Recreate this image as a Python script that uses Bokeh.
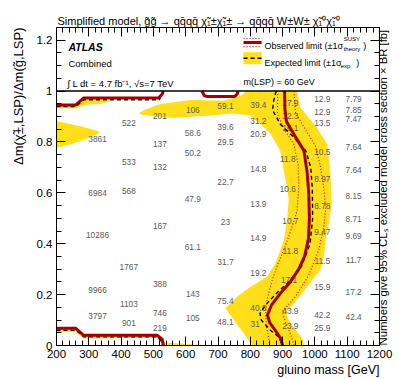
import math
from bokeh.plotting import figure
from bokeh.models import LinearAxis, FixedTicker, Label, Span, Range1d, ColumnDataSource, Title
from bokeh.core.properties import value
from bokeh.embed import file_html
from bokeh.resources import INLINE

FONT = "Liberation Sans"
YELLOW = "#FEDF1A"
OBS_COLOR = "#A50000"
THEORY_COLOR = "#D40000"

# ---------------- axes ----------------
x_ticks = [200, 300, 400, 500, 600, 700, 800, 900, 1000, 1100, 1200]
x_minor = [v for v in range(200, 1201, 20) if v % 100]
y_ticks = [0, 0.2, 0.4, 0.6, 0.8, 1.0, 1.2]
y_tick_labels = ["0", "0.2", "0.4", "0.6", "0.8", "1", "1.2"]
y_minor = [round(0.05 * i, 2) for i in range(26) if i % 4]
ratio_max = 1.0

# ---------------- numbers (95% CLs excluded xsec x BR [fb]) ----------------
num_mass = [327, 327, 327, 327, 327,
            424, 424, 424, 424, 424, 424,
            520, 520, 520, 520, 520, 520, 520,
            622, 622, 622, 622, 622, 622, 622,
            723, 723, 723, 723, 723, 723, 723, 723,
            825, 825, 825, 825, 825, 825, 825, 825, 815,
            924, 924, 924, 916, 916, 924, 924, 920, 924, 924,
            1023, 1023, 1023, 1023, 1023, 1023, 1023, 1023, 1023, 1023, 1023,
            1120, 1120, 1120, 1120, 1120, 1120, 1120, 1120, 1120, 1120, 1120]
num_ratio = [0.81, 0.60, 0.435, 0.22, 0.115,
             0.873, 0.723, 0.609, 0.309, 0.163, 0.088,
             0.904, 0.794, 0.70, 0.47, 0.242, 0.127, 0.068,
             0.924, 0.834, 0.758, 0.577, 0.388, 0.202, 0.108,
             0.94, 0.86, 0.80, 0.644, 0.486, 0.33, 0.175, 0.092,
             0.947, 0.883, 0.83, 0.695, 0.557, 0.423, 0.285, 0.148, 0.083,
             0.955, 0.903, 0.854, 0.732, 0.614, 0.49, 0.372, 0.258, 0.136, 0.076,
             0.967, 0.916, 0.873, 0.762, 0.656, 0.55, 0.447, 0.333, 0.23, 0.12, 0.068,
             0.967, 0.924, 0.892, 0.782, 0.691, 0.588, 0.498, 0.43, 0.336, 0.21, 0.112]
num_text = ["3861", "6984", "10286", "9966", "3797",
            "522", "533", "568", "1767", "1103", "901",
            "201", "137", "132", "167", "388", "746", "219",
            "106", "58.6", "50.2", "47.9", "61.1", "143", "105",
            "59.1", "39.6", "29.5", "22.7", "23", "31.7", "75.4", "48.1",
            "39.4", "31.2", "20.9", "14.8", "13.9", "14.9", "19.2", "40.6", "31",
            "27.9", "32.3", "16.1", "11.8", "10.6", "10.7", "11.8", "17.1", "43.9", "23.9",
            "12.9", "12.9", "13.5", "10.5", "8.97", "8.78", "9.47", "11.5", "15.9", "42.2", "25.9",
            "7.79", "7.85", "7.47", "7.64", "7.64", "8.15", "8.71", "9.69", "11.7", "17.2", "42.4"]

# ---------------- contours ----------------
obs_mass = [906, 907, 912, 935, 966, 976, 981, 983, 980, 968, 950, 924, 893, 866, 853, 860, 880, 895, 900]
obs_ratio = [1.0, 0.93, 0.88, 0.83, 0.766, 0.68, 0.60, 0.50, 0.42, 0.35, 0.30, 0.25, 0.205, 0.16, 0.12, 0.09, 0.055, 0.025, 0.0]
obs_tl_mass = [200, 259, 284, 516, 528, 530]
obs_tl_ratio = [0.945, 0.945, 0.973, 0.973, 0.99, 1.0]
obs_tm_mass = [650, 658, 668, 752, 760, 762]
obs_tm_ratio = [1.0, 0.982, 0.979, 0.979, 0.99, 1.0]
obs_bl_mass = [200, 259, 284, 512, 527, 531]
obs_bl_ratio = [0.068, 0.068, 0.040, 0.040, 0.025, 0.0]
obs_lo_mass = [885, 884, 905, 935, 948, 950, 945, 925, 905, 885, 866, 852, 847, 850, 858, 860]
obs_lo_ratio = [1.0, 0.91, 0.85, 0.79, 0.71, 0.62, 0.53, 0.45, 0.38, 0.32, 0.25, 0.18, 0.126, 0.073, 0.021, 0.0]
obs_hi_mass = [935, 940, 971, 1002, 1017, 1028, 1033, 1028, 1012, 981, 940, 899, 909, 924, 935]
obs_hi_ratio = [1.0, 0.915, 0.849, 0.783, 0.705, 0.613, 0.534, 0.468, 0.376, 0.277, 0.192, 0.133, 0.093, 0.047, 0.0]
exp_mass = [880, 872, 869, 893, 935, 972, 987, 992, 993, 985, 958, 915, 885, 852, 830, 834, 862, 888, 899]
exp_ratio = [1.0, 0.96, 0.925, 0.87, 0.818, 0.765, 0.70, 0.62, 0.50, 0.40, 0.31, 0.245, 0.21, 0.166, 0.127, 0.10, 0.06, 0.034, 0.0]
exp_tl_mass = [200, 260, 285, 518, 531]
exp_tl_ratio = [0.939, 0.939, 0.966, 0.966, 1.0]
exp_bl_mass = [200, 260, 285, 515, 530]
exp_bl_ratio = [0.060, 0.060, 0.034, 0.034, 0.0]
band_mass = [455, 470, 522, 615, 718, 770, 790, 945, 955, 1006, 1038, 1048, 1052, 1043, 1035, 1028, 1017,
             976, 945, 914, 915, 924, 961, 966, 806, 780, 749, 723, 759, 801, 852, 878, 904, 914, 919,
             914, 904, 893, 863, 832, 801, 749, 666, 563, 470]
band_ratio = [0.913, 0.925, 0.949, 0.965, 0.962, 0.982, 1.0, 1.0, 0.936, 0.857, 0.791, 0.686, 0.55, 0.48, 0.43,
              0.35, 0.297, 0.231, 0.179, 0.139, 0.11, 0.087, 0.028, 0.0, 0.0, 0.047, 0.10, 0.146, 0.192, 0.231,
              0.271, 0.323, 0.415, 0.494, 0.573, 0.62, 0.686, 0.765, 0.831, 0.87, 0.903, 0.912, 0.903, 0.894, 0.905]
band_l_mass = [200, 274, 330, 333, 326, 274, 222, 200]
band_l_ratio = [0.882, 0.862, 0.842, 0.836, 0.83, 0.803, 0.783, 0.777]
band_tl_mass = [200, 259, 284, 373, 340, 284, 262, 200]
band_tl_ratio = [0.948, 0.948, 0.968, 0.962, 0.95, 0.945, 0.933, 0.933]
band_bl_mass = [200, 260, 285, 515, 535, 650, 650, 531, 512, 284, 259, 200]
band_bl_ratio = [0.072, 0.072, 0.045, 0.043, 0.012, 0.002, 0.0, 0.0, 0.03, 0.028, 0.052, 0.052]

TITLE = ("Simplified model, g\u0303g\u0303 \u2192 qq\u0304qq\u0304 \u03c7\u0303\u2081\u00b1\u03c7\u0303\u2081\u00b1 \u2192 "
         "qq\u0304qq\u0304 W\u00b1W\u00b1 \u03c7\u0303\u2081\u2070\u03c7\u0303\u2081\u2070")
X_TITLE = "gluino mass [GeV]"
Y_TITLE = "\u0394m(\u03c7\u0303\u00b1,LSP)/\u0394m(g\u0303,LSP)"
Z_TITLE = "Numbers give 95% CL\u209b excluded model cross section \u00d7 BR [fb]"

# ---------------- figure ----------------
p = figure(width=399, height=379, x_range=Range1d(200, 1200), y_range=Range1d(0, 1.25),
           output_backend="svg", toolbar_location=None,
           min_border_left=56, min_border_right=20, min_border_top=27, min_border_bottom=34)
p.grid.visible = False
p.outline_line_color = "black"
p.outline_line_width = 1
p.background_fill_color = "white"
p.border_fill_color = "white"

p.title.text = TITLE
p.title.align = "left"
p.title.offset = 1
p.title.standoff = 2
p.title.text_font = FONT
p.title.text_font_size = "11px"
p.title.text_font_style = "normal"
p.title.text_color = "black"


def style_axis(ax, ticks, minor, labels=True, overrides=None):
    ax.ticker = FixedTicker(ticks=ticks, minor_ticks=minor)
    ax.major_tick_in = 9
    ax.major_tick_out = 0
    ax.minor_tick_in = 5
    ax.minor_tick_out = 0
    ax.axis_line_color = "black"
    ax.major_tick_line_color = "black"
    ax.minor_tick_line_color = "black"
    ax.major_label_text_font = FONT
    ax.major_label_text_color = "black"
    ax.axis_label_text_font = FONT
    ax.axis_label_text_font_style = "normal"
    ax.axis_label_text_color = "black"
    if labels:
        ax.major_label_text_font_size = "11.5px"
        ax.major_label_standoff = 4
        if overrides:
            ax.major_label_overrides = overrides
    else:
        ax.major_label_text_font_size = "0px"
        ax.major_label_standoff = 0
        ax.major_label_overrides = {t: "" for t in ticks}


xa = p.xaxis[0]
style_axis(xa, x_ticks, x_minor)
ya = p.yaxis[0]
style_axis(ya, y_ticks, y_minor, overrides=dict(zip(y_ticks, y_tick_labels)))

top_ax = LinearAxis()
style_axis(top_ax, x_ticks, x_minor, labels=False)
p.add_layout(top_ax, "above")

right_ax = LinearAxis()
style_axis(right_ax, y_ticks, y_minor, labels=False)
right_ax.axis_label = Z_TITLE
right_ax.axis_label_text_font_size = "11.3px"
right_ax.axis_label_standoff = 3
right_ax.axis_label_orientation = math.pi / 2
right_ax.axis_label_align = "start"
p.add_layout(right_ax, "right")

# axis titles, aligned to the end of their axes
p.add_layout(Title(text=X_TITLE, align="right", standoff=0, text_font=FONT,
                   text_font_size="12.5px", text_font_style="normal", text_color="black"), "below")
p.add_layout(Title(text=Y_TITLE, align="right", standoff=16, text_font=FONT,
                   text_font_size="13px", text_font_style="normal", text_color="black"), "left")

# expected +-1 sigma band
p.patches(xs=[band_mass, band_l_mass, band_tl_mass, band_bl_mass],
          ys=[band_ratio, band_l_ratio, band_tl_ratio, band_bl_ratio],
          fill_color=YELLOW, line_color=None)

# numbers
src = ColumnDataSource(dict(x=num_mass, y=num_ratio, t=num_text))
p.text(x="x", y="y", text="t", source=src, text_font=value(FONT), text_font_size="8.3px",
       text_color="#5a5a5a", text_align="center", text_baseline="middle")

for xs, ys in [(exp_mass, exp_ratio), (exp_tl_mass, exp_tl_ratio), (exp_bl_mass, exp_bl_ratio)]:
    p.line(xs, ys, line_color="black", line_width=1.4, line_dash="4 3")
for xs, ys in [(obs_lo_mass, obs_lo_ratio), (obs_hi_mass, obs_hi_ratio)]:
    p.line(xs, ys, line_color=THEORY_COLOR, line_width=1.1, line_dash="1 2")
for xs, ys in [(obs_mass, obs_ratio), (obs_tl_mass, obs_tl_ratio), (obs_tm_mass, obs_tm_ratio),
               (obs_bl_mass, obs_bl_ratio)]:
    p.line(xs, ys, line_color=OBS_COLOR, line_width=3)

p.add_layout(Span(location=ratio_max, dimension="width", line_color="black", line_width=1.5))

# ---------------- legend ----------------
p.line([779, 835], [1.207, 1.207], line_color=THEORY_COLOR, line_width=1.1, line_dash="1 2")
p.line([779, 835], [1.175, 1.175], line_color=THEORY_COLOR, line_width=1.1, line_dash="1 2")
p.line([779, 835], [1.191, 1.191], line_color=OBS_COLOR, line_width=3)
p.quad(left=779, right=835, bottom=1.106, top=1.153, fill_color=YELLOW, line_color=None)
p.line([779, 835], [1.129, 1.129], line_color="black", line_width=1.4, line_dash="4 3")


def add_label(x, y, text, size, align="left", style="normal"):
    p.add_layout(Label(x=x, y=y, text=text, text_font=FONT, text_font_size=size,
                       text_align=align, text_baseline="alphabetic", text_font_style=style,
                       text_color="black"))


add_label(844, 1.178, "Observed limit (\u00b11\u03c3", "9px")
add_label(1089, 1.204, "SUSY", "6px")
add_label(1089, 1.164, "theory", "6px")
add_label(1150, 1.178, ")", "9px")
add_label(844, 1.112, "Expected limit (\u00b11\u03c3", "9px")
add_label(1080, 1.100, "exp", "6px")
add_label(1128, 1.112, ")", "9px")
add_label(779, 1.035, "m(LSP) = 60 GeV", "9px")

add_label(237, 1.173, "ATLAS", "10.5px", style="bold italic")
add_label(237, 1.108, "Combined", "9.5px")
add_label(233, 1.031, "\u222b L dt = 4.7 fb\u207b\u00b9, \u221as=7 TeV", "9.5px")

open("out.html", "w").write(file_html(p, INLINE))
